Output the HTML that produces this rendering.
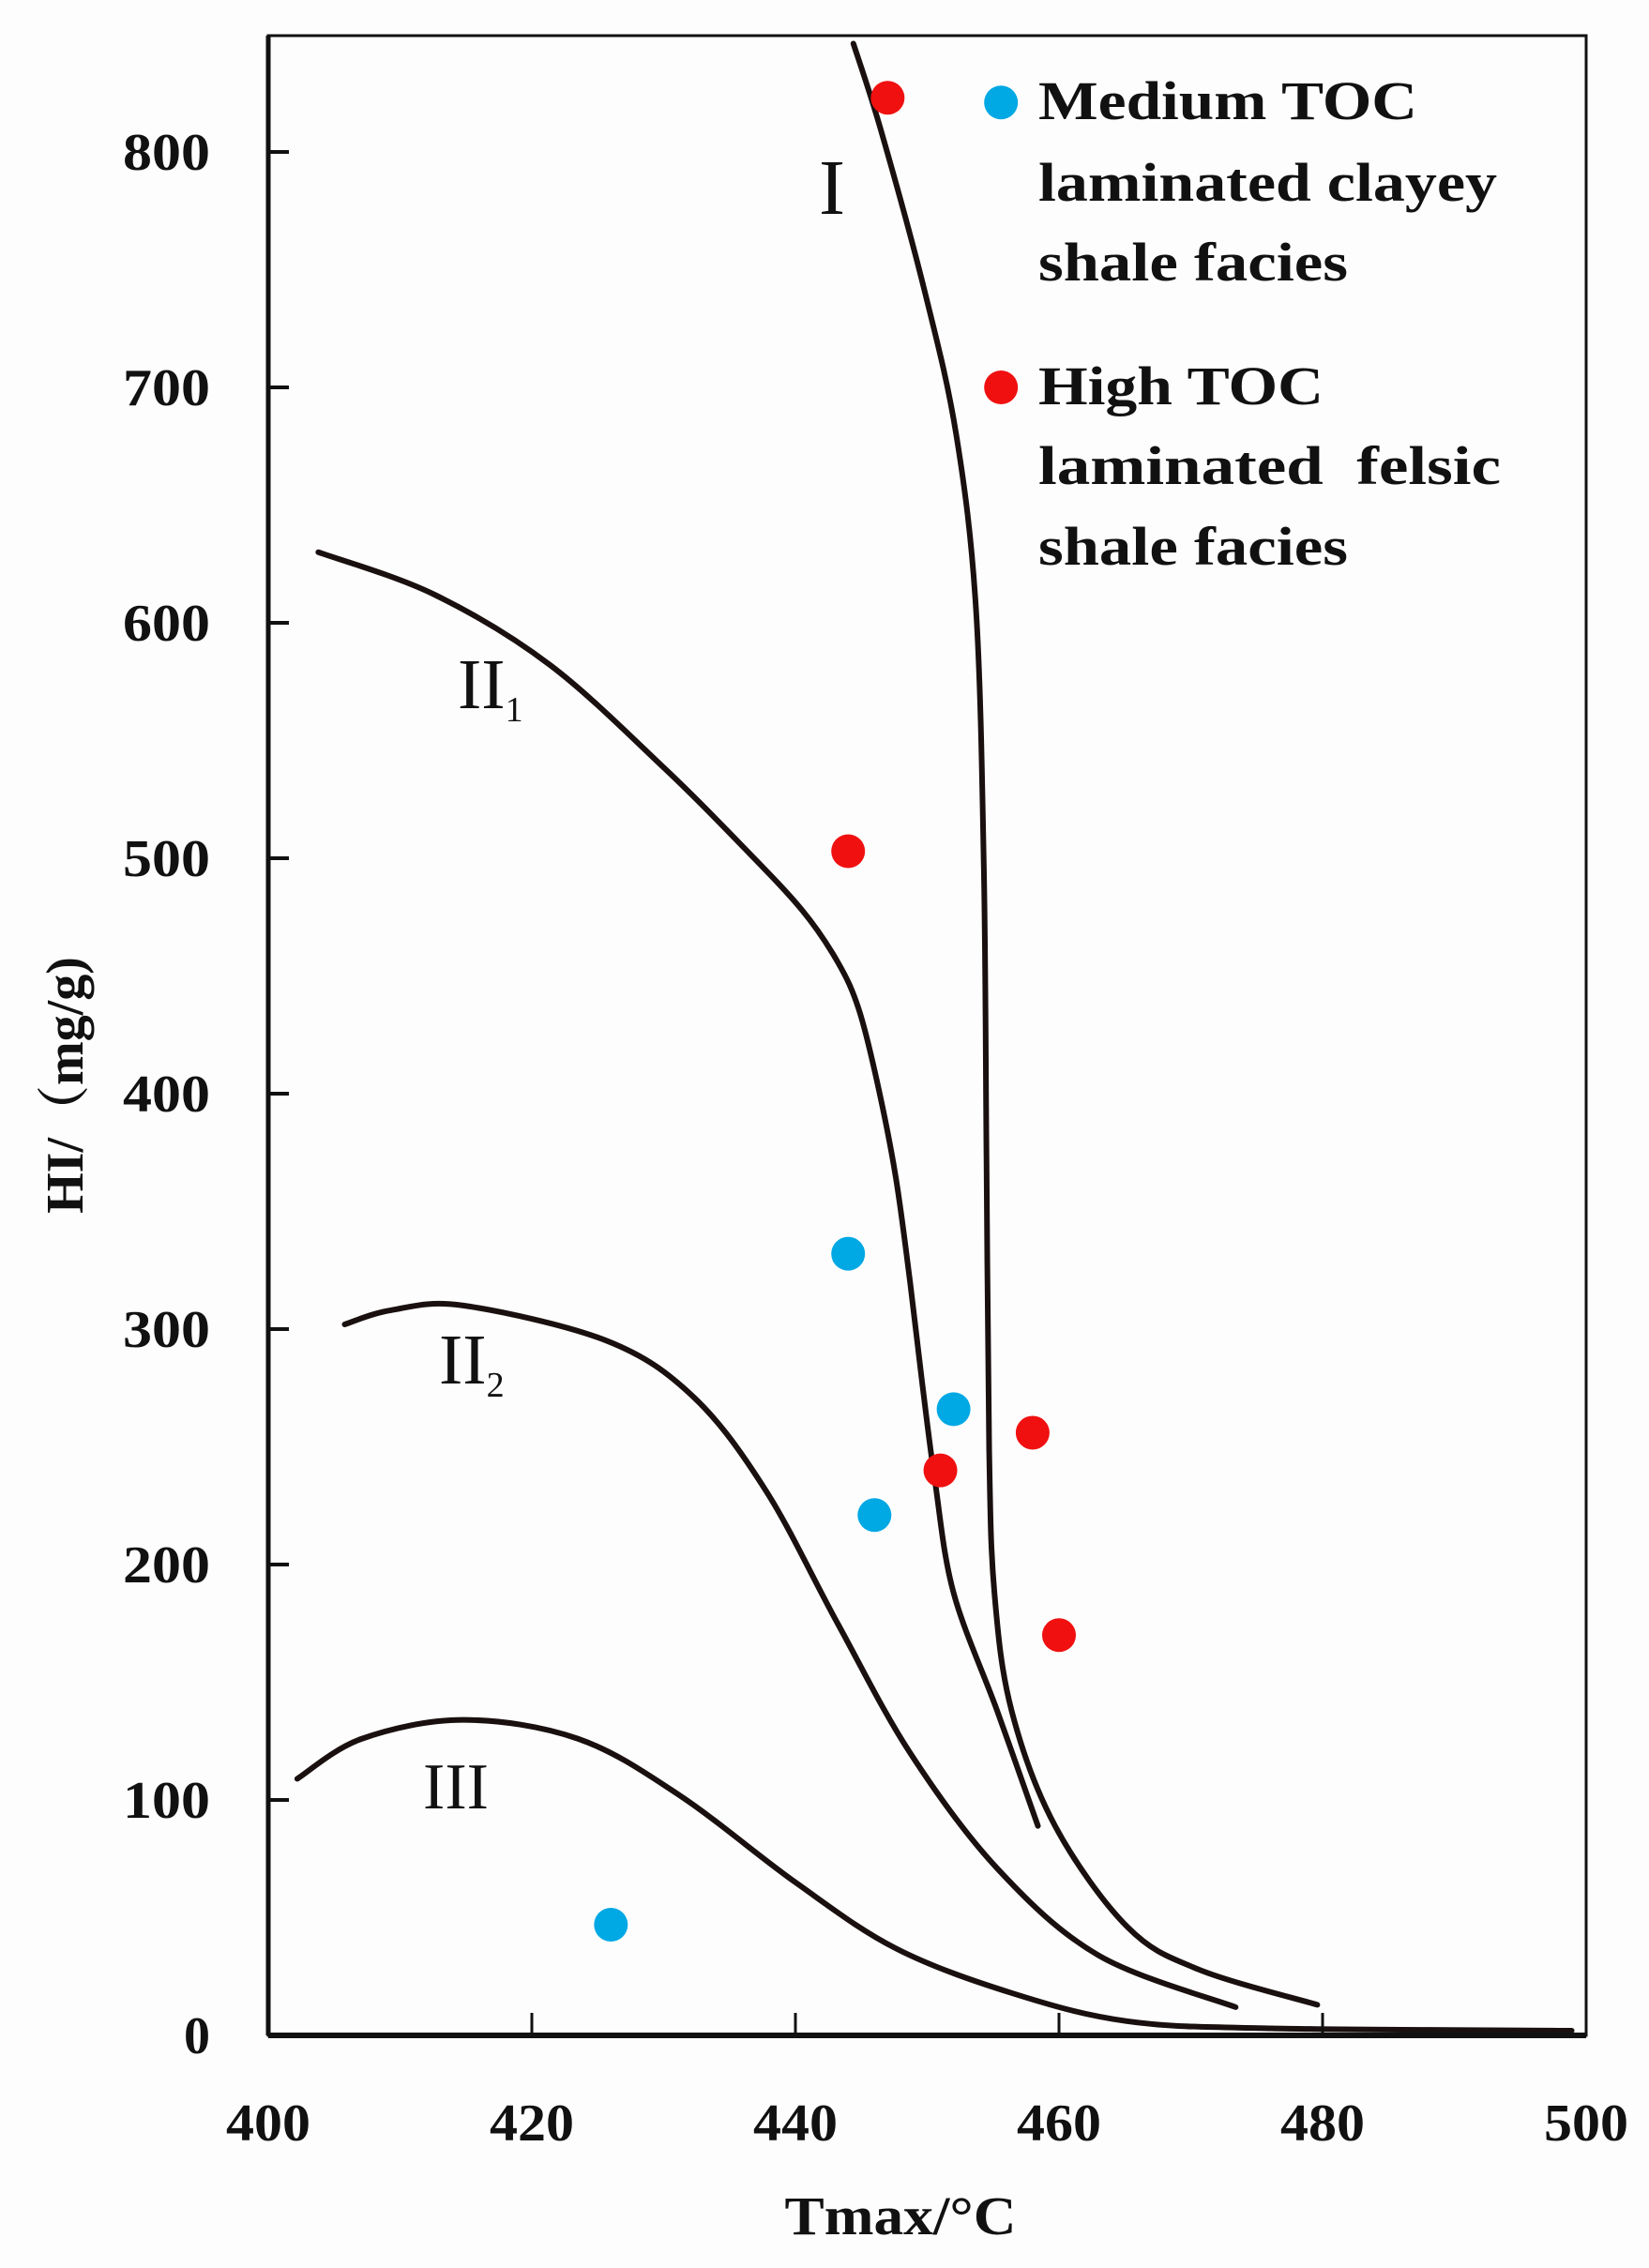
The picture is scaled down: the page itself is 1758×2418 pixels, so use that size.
<!DOCTYPE html>
<html><head><meta charset="utf-8"><style>
html,body{margin:0;padding:0;background:#fff;}
svg{display:block;}
text{font-family:"Liberation Serif","Noto Serif CJK SC",serif;fill:#111;}
</style></head><body>
<svg id="chart" width="1758" height="2418" viewBox="0 0 1758 2418" xmlns="http://www.w3.org/2000/svg">
<rect width="1758" height="2418" fill="#fdfdfd"/>
<g id="curves"></g>
<g id="points"></g>
<g id="axes"></g>
<text x="887" y="228" font-size="84" text-anchor="middle">I</text>
<text x="488" y="755" font-size="76">II<tspan font-size="38" dy="14">1</tspan></text>
<text x="468" y="1475" font-size="76">II<tspan font-size="38" dy="14">2</tspan></text>
<text x="486" y="1928" font-size="70" text-anchor="middle">III</text>
<g font-weight="bold" font-size="58">
<text x="1107" y="127" textLength="404" lengthAdjust="spacingAndGlyphs">Medium TOC</text>
<text x="1107" y="214" textLength="489" lengthAdjust="spacingAndGlyphs">laminated clayey</text>
<text x="1107" y="299" textLength="330" lengthAdjust="spacingAndGlyphs">shale facies</text>
<text x="1107" y="431" textLength="304" lengthAdjust="spacingAndGlyphs">High TOC</text>
<text x="1107" y="516" textLength="493" lengthAdjust="spacingAndGlyphs">laminated&#160; felsic</text>
<text x="1107" y="602" textLength="330" lengthAdjust="spacingAndGlyphs">shale facies</text>
</g>
<text x="960" y="2382" font-size="58" font-weight="bold" text-anchor="middle" textLength="247" lengthAdjust="spacingAndGlyphs">Tmax/°C</text>
<text transform="translate(88,1157) rotate(-90)" font-size="56" font-weight="bold" text-anchor="middle">HI/（mg/g)</text>
</svg>
<script>
const xTicks=[400,420,440,460,480,500];
const yTicks=[0,100,200,300,400,500,600,700,800];
const curveIT=[444.4,446.5,449.8,452.2,453.7,454.3,454.5,454.7,455.1,456.4,459.7,465.2,470.6,479.6];
const curveIHI=[846,809,741,680,606,495,372,249,188,138,89,46,28,13];
const curveII1T=[403.8,412.6,421.4,430.1,436.0,440.5,443.2,444.8,446.2,447.6,448.7,449.6,450.6,452.0,455.3,458.4];
const curveII1HI=[630,612,582,538,505,478,456,436,405,365,320,278,235,188,138,89];
const curveII2T=[405.8,409.3,414.8,425.7,432.3,437.8,443.2,448.7,455.3,463.0,473.4];
const curveII2HI=[302,308,310,295,271,231,175,120,71,34,12];
const curveIIIT=[402.2,407.1,414.8,423.5,431.2,440.0,447.6,456.4,465.2,476.1,498.9];
const curveIIIHI=[109,126,134,126,102,65,37,18,6,3,2];
const blueT=[426,444,452,446];
const blueHI=[47,332,266,221];
const redT=[447,444,451,458,460];
const redHI=[823,503,240,256,170];
const legendT=[455.6,455.6];
const legendHI=[821,700];

const X0=286,X1=1691,Y0=2170,YTOP=38;
function sx(v){return X0+(v-400)*(X1-X0)/100;}
function sy(v){return Y0-v*2.51;}
const NS="http://www.w3.org/2000/svg";
function mk(t,a,p){const e=document.createElementNS(NS,t);for(const k in a)e.setAttribute(k,a[k]);p.appendChild(e);return e;}
function smooth(xs,ys){
  const P=xs.map((x,i)=>[sx(x),sy(ys[i])]);
  let d="M"+P[0][0]+","+P[0][1];
  for(let i=0;i<P.length-1;i++){
    const p0=P[Math.max(0,i-1)],p1=P[i],p2=P[i+1],p3=P[Math.min(P.length-1,i+2)];
    const c1=[p1[0]+(p2[0]-p0[0])/6,p1[1]+(p2[1]-p0[1])/6];
    const c2=[p2[0]-(p3[0]-p1[0])/6,p2[1]-(p3[1]-p1[1])/6];
    d+=" C"+c1[0]+","+c1[1]+" "+c2[0]+","+c2[1]+" "+p2[0]+","+p2[1];
  }
  return d;
}
const cg=document.getElementById('curves');
const curves=[["curve-type-i",curveIT,curveIHI],["curve-type-ii1",curveII1T,curveII1HI],["curve-type-ii2",curveII2T,curveII2HI],["curve-type-iii",curveIIIT,curveIIIHI]];
curves.forEach(c=>{
  const p=mk('path',{d:smooth(c[1],c[2]),fill:'none',stroke:'#1a1010','stroke-width':6,'stroke-linecap':'round'},cg);
  
  
});
const pg=document.getElementById('points');
blueT.forEach((t,i)=>{
  const c=mk('circle',{cx:sx(t),cy:sy(blueHI[i]),r:18,fill:'#00a8e4'},pg);
  
  
});
redT.forEach((t,i)=>{
  const c=mk('circle',{cx:sx(t),cy:sy(redHI[i]),r:18,fill:'#f01010'},pg);
  
  
});
const lc=['#00a8e4','#f01010'];
legendT.forEach((t,i)=>{
  const c=mk('circle',{cx:sx(t),cy:sy(legendHI[i]),r:18,fill:lc[i]},pg);
  
  
});
const ag=document.getElementById('axes');
const fr=mk('rect',{x:X0,y:YTOP,width:X1-X0,height:Y0-YTOP,fill:'none',stroke:'#111','stroke-width':3},ag);


const xa=mk('line',{x1:X0,y1:Y0,x2:X1,y2:Y0,stroke:'#111','stroke-width':6},ag);


const ya=mk('line',{x1:X0,y1:YTOP,x2:X0,y2:Y0,stroke:'#111','stroke-width':5},ag);


xTicks.forEach(v=>{
  if(v>400&&v<500){const l=mk('line',{x1:sx(v),y1:Y0,x2:sx(v),y2:Y0-24,stroke:'#111','stroke-width':3},ag);
  
  }
  const t=mk('text',{x:sx(v),y:2282,'font-size':56,'font-weight':'bold','text-anchor':'middle',textLength:90,lengthAdjust:'spacingAndGlyphs'},ag);
  t.textContent=v;
  
  
});
yTicks.forEach(v=>{
  if(v>0){const l=mk('line',{x1:X0,y1:sy(v),x2:X0+22,y2:sy(v),stroke:'#111','stroke-width':4},ag);
  
  }
  const attrs={x:224,y:sy(v)+19,'font-size':56,'font-weight':'bold','text-anchor':'end'};
  if(v>=100){attrs.textLength=93;attrs.lengthAdjust='spacingAndGlyphs';}
  const t=mk('text',attrs,ag);
  t.textContent=v;
  
  
});
</script>
</body></html>
